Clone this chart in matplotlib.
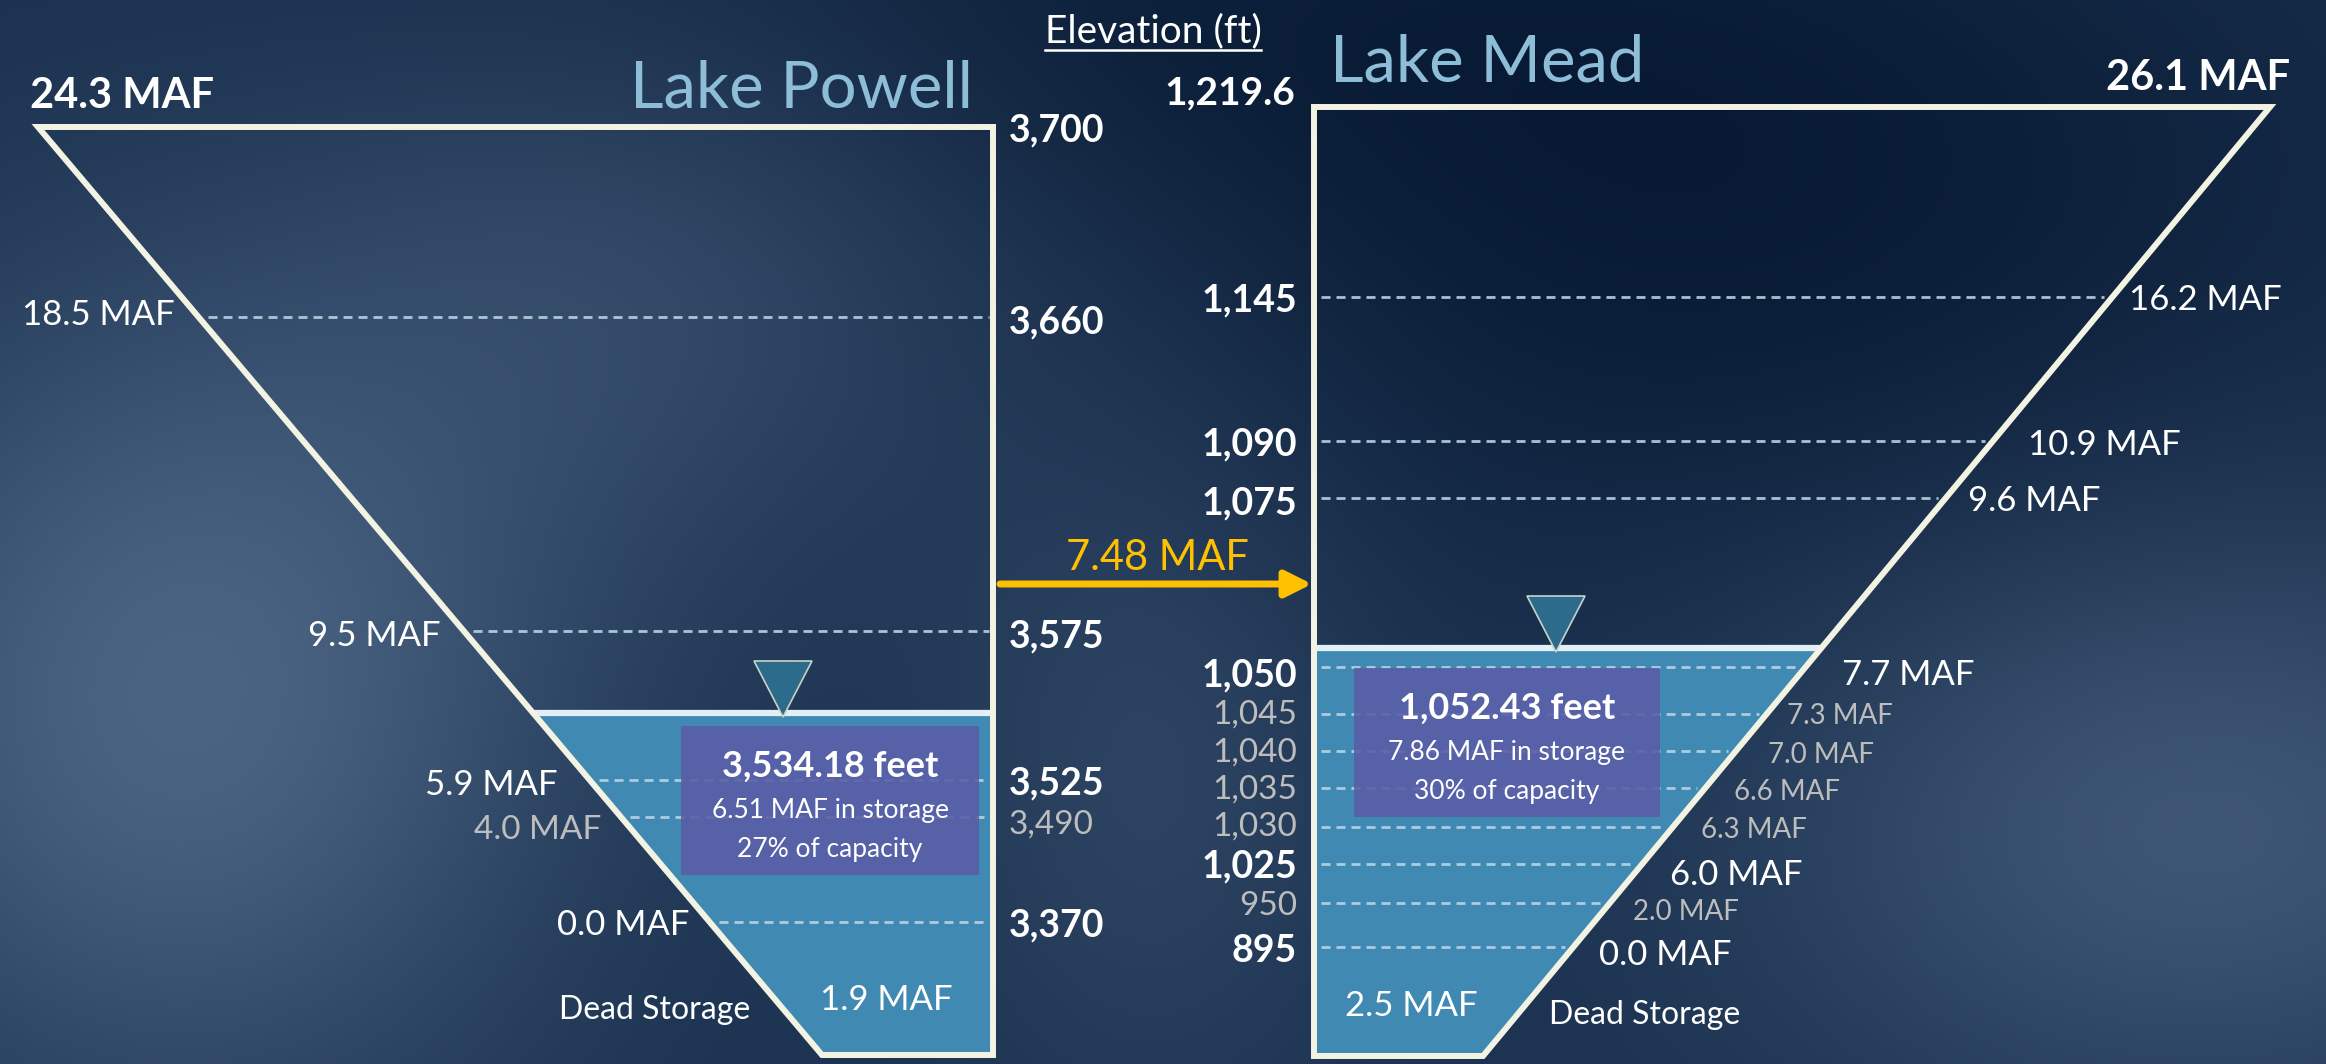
import numpy as np
import matplotlib.pyplot as plt
from matplotlib.patches import Polygon, Rectangle

plt.rcParams['font.family'] = ['Lato', 'DejaVu Sans']
plt.rcParams['lines.scale_dashes'] = False

W, H = 2326, 1064

# Lake Powell
powell_elev = [3660, 3575, 3525, 3490, 3370]
powell_maf = [18.5, 9.5, 5.9, 4.0, 0.0]
powell_major = [True, True, True, False, True]
powell_full_elev = 3700
powell_full_maf = 24.3
powell_now_elev = 3534.18
powell_now_maf = 6.51
powell_now_pct = 27
powell_dead_maf = 1.9

# Lake Mead
mead_elev = [1145, 1090, 1075, 1050, 1045, 1040, 1035, 1030, 1025, 950, 895]
mead_maf = [16.2, 10.9, 9.6, 7.7, 7.3, 7.0, 6.6, 6.3, 6.0, 2.0, 0.0]
mead_major = [True, True, True, True, False, False, False, False, True, False, True]
mead_full_elev = 1219.6
mead_full_maf = 26.1
mead_now_elev = 1052.43
mead_now_maf = 7.86
mead_now_pct = 30
mead_dead_maf = 2.5

transfer_maf = 7.48

# the drawing is schematic: pixel row (from top) where each elevation sits
powell_knots = ([3370, 3490, 3525, 3534.18, 3575, 3660, 3700],
                [922, 817, 780, 713, 631, 317, 127])
mead_knots = ([895, 950, 1025, 1030, 1035, 1040, 1045, 1050, 1052.43, 1075, 1090, 1145, 1219.6],
              [947, 903, 864, 827, 788, 751, 714, 667, 648, 498, 441, 297, 107])

# label nudges (pixels)
powell_maf_gap = [24, 23, 32, 20, 20]
powell_maf_dy = [-5, 2, 2, 10, 0]
powell_elev_dy = [2, 2, 0, 5, 0]
mead_maf_gap = [17, 35, 22, 36, 20, 32, 29, 28, 28, 23, 26]
mead_maf_dy = [0, 1, 0, 5, -1, 1, 1, 0, 8, 7, 5]
mead_elev_dy = [0, 0, 2, 5, -2, -1, -1, -3, -1, 0, 1]

WHITE = '#ffffff'
GREY = '#bdbdbd'
EDGE = '#f3f3e3'
WATER = '#4089b2'
BOX = '#5a5ca6'
DASH = '#b8d3e4'
TITLE = '#8dbdd7'
GOLD = '#ffc000'


def schematic_scale(elev, rows):
    e = np.asarray(elev, float)
    r = -np.asarray(rows, float)
    lo = (r[1] - r[0]) / (e[1] - e[0])
    hi = (r[-1] - r[-2]) / (e[-1] - e[-2])

    def fwd(v):
        v = np.asarray(v, float)
        out = np.interp(v, e, r)
        out = np.where(v < e[0], r[0] + (v - e[0]) * lo, out)
        return np.where(v > e[-1], r[-1] + (v - e[-1]) * hi, out)

    def inv(u):
        u = np.asarray(u, float)
        out = np.interp(u, r, e)
        out = np.where(u < r[0], e[0] + (u - r[0]) / lo, out)
        return np.where(u > r[-1], e[-1] + (u - r[-1]) / hi, out)

    return fwd, inv


def lake_axes(knots):
    fwd, inv = schematic_scale(*knots)
    ax = fig.add_axes([0, 0, 1, 1])
    ax.set_facecolor('none')
    ax.set_yscale('function', functions=(fwd, inv))
    ax.set_xlim(0, W)
    ax.set_ylim(float(inv(-H)), float(inv(0)))
    ax.axis('off')
    return ax, (lambda v: -float(fwd(v))), (lambda r: float(inv(-r)))


def dashed(ax, x0, x1, e):
    ax.plot([x0, x1], [e, e], color=DASH, lw=2.0, dashes=(6.5, 4.3), alpha=0.9, zorder=2)


def marker(ax, elev_at, cx, surf_row):
    # inverted triangle sitting on the water surface
    top = elev_at(surf_row - 52)
    ax.add_patch(Polygon([(cx - 29, top), (cx + 29, top), (cx, elev_at(surf_row + 4))],
                         closed=True, fc='#2d6b8c', ec='#c9d3c6', lw=1.2, zorder=6))


def info_box(ax, elev_at, x0, x1, top_row, elev, maf, pct):
    bottom_row = top_row + 149
    ax.add_patch(Rectangle((x0, elev_at(bottom_row)), x1 - x0,
                           elev_at(top_row) - elev_at(bottom_row),
                           fc=BOX, ec='none', alpha=0.88, zorder=3))
    cx = (x0 + x1) / 2
    kw = dict(ha='center', va='center_baseline', color=WHITE, zorder=7)
    ax.text(cx, elev_at(top_row + 37), f'{elev:,.2f} feet', fontsize=26, fontweight='bold', **kw)
    ax.text(cx, elev_at(top_row + 82), f'{maf:.2f} MAF in storage', fontsize=19, **kw)
    ax.text(cx, elev_at(top_row + 121), f'{pct}% of capacity', fontsize=19, **kw)


fig = plt.figure(figsize=(W / 100, H / 100), dpi=100)

# hazy navy background
bg = fig.add_axes([0, 0, 1, 1])
yy, xx = np.mgrid[0:H:4, 0:W:4]


def blob(cx, cy, sx, sy):
    return np.exp(-0.5 * (((xx - cx) / sx) ** 2 + ((yy - cy) / sy) ** 2))


base = np.array([0.10, 0.19, 0.31])
light = np.array([0.34, 0.44, 0.56])
dark = np.array([0.03, 0.10, 0.20])
glow = (0.8 * blob(180, 700, 280, 300) + 0.6 * blob(2200, 820, 320, 220)
        + 0.35 * blob(650, 280, 260, 200) + 0.3 * blob(1150, 760, 160, 260))
shade = 0.85 * blob(1750, 230, 450, 260) + 0.5 * blob(1150, 0, 500, 160)
img = base + glow[..., None] * (light - base) + shade[..., None] * (dark - base)
bg.imshow(np.clip(img, 0, 1), extent=(0, W, H, 0), aspect='auto', interpolation='bilinear')
bg.set_xlim(0, W)
bg.set_ylim(H, 0)
bg.axis('off')

# ---- Lake Powell ----
pa, prow, pelev = lake_axes(powell_knots)
p_top = prow(powell_full_elev)
p_bottom = 1055
p_left_top, p_left_bottom, p_right = 38, 822, 993


def p_slant(r):
    return p_left_top + (r - p_top) * (p_left_bottom - p_left_top) / (p_bottom - p_top)


p_floor = pelev(p_bottom)
p_surf = prow(powell_now_elev)

pa.add_patch(Polygon([(p_slant(p_surf), powell_now_elev), (p_right, powell_now_elev),
                      (p_right, p_floor), (p_left_bottom, p_floor)],
                     closed=True, fc=WATER, ec='none', zorder=1))
for e, m, big, gap, dy, edy in zip(powell_elev, powell_maf, powell_major,
                                   powell_maf_gap, powell_maf_dy, powell_elev_dy):
    r = prow(e)
    dashed(pa, p_slant(r) + 9, p_right - 4, e)
    pa.annotate(f'{m:.1f} MAF', (p_slant(r) - gap, e), xytext=(0, -dy), textcoords='offset pixels',
                ha='right', va='center_baseline', color=WHITE if big else GREY,
                fontsize=25 if big else 24)
    pa.annotate(f'{e:,}', (1009, e), xytext=(0, -edy), textcoords='offset pixels',
                ha='left', va='center_baseline', color=WHITE if big else GREY,
                fontsize=27 if big else 24, fontweight='bold' if big else 'normal')
pa.text(1009, powell_full_elev, f'{powell_full_elev:,}', ha='left', va='center_baseline',
        color=WHITE, fontsize=27, fontweight='bold')

pa.plot([p_slant(p_surf), p_right], [powell_now_elev] * 2, color='#e2eff6', lw=4.5,
        solid_capstyle='butt', zorder=4)
pa.add_patch(Polygon([(p_left_top, powell_full_elev), (p_right, powell_full_elev),
                      (p_right, p_floor), (p_left_bottom, p_floor)],
                     closed=True, fill=False, ec=EDGE, lw=4.3, joinstyle='miter', zorder=5))
marker(pa, pelev, 783, p_surf)
info_box(pa, pelev, 681, 979, p_surf + 13, powell_now_elev, powell_now_maf, powell_now_pct)

# ---- Lake Mead ----
ma, mrow, melev = lake_axes(mead_knots)
m_top = mrow(mead_full_elev)
m_bottom = 1056
m_left, m_right_top, m_right_bottom = 1314, 2270, 1483


def m_slant(r):
    return m_right_top - (r - m_top) * (m_right_top - m_right_bottom) / (m_bottom - m_top)


m_floor = melev(m_bottom)
m_surf = mrow(mead_now_elev)

ma.add_patch(Polygon([(m_left, mead_now_elev), (m_slant(m_surf), mead_now_elev),
                      (m_right_bottom, m_floor), (m_left, m_floor)],
                     closed=True, fc=WATER, ec='none', zorder=1))
for e, m, big, gap, dy, edy in zip(mead_elev, mead_maf, mead_major,
                                   mead_maf_gap, mead_maf_dy, mead_elev_dy):
    r = mrow(e)
    dashed(ma, m_left + 7, m_slant(r) - 8, e)
    ma.annotate(f'{m:.1f} MAF', (m_slant(r) + gap, e), xytext=(0, -dy), textcoords='offset pixels',
                ha='left', va='center_baseline', color=WHITE if big else GREY,
                fontsize=25 if big else 20)
    ma.annotate(f'{e:,}', (1297, e), xytext=(0, -edy), textcoords='offset pixels',
                ha='right', va='center_baseline', color=WHITE if big else GREY,
                fontsize=27 if big else 24, fontweight='bold' if big else 'normal')
ma.annotate(f'{mead_full_elev:,}', (1295, mead_full_elev), xytext=(0, 17),
            textcoords='offset pixels', ha='right', va='center_baseline',
            color=WHITE, fontsize=28, fontweight='bold')

ma.plot([m_left, m_slant(m_surf)], [mead_now_elev] * 2, color='#e2eff6', lw=4.5,
        solid_capstyle='butt', zorder=4)
ma.add_patch(Polygon([(m_left, mead_full_elev), (m_right_top, mead_full_elev),
                      (m_right_bottom, m_floor), (m_left, m_floor)],
                     closed=True, fill=False, ec=EDGE, lw=4.3, joinstyle='miter', zorder=5))
marker(ma, melev, 1556, m_surf)
info_box(ma, melev, 1354, 1660, m_surf + 20, mead_now_elev, mead_now_maf, mead_now_pct)

# ---- titles, transfer arrow, dead storage notes ----
ov = fig.add_axes([0, 0, 1, 1])
ov.set_xlim(0, W)
ov.set_ylim(H, 0)
ov.axis('off')

ov.text(973, 83, 'Lake Powell', ha='right', va='center_baseline', fontsize=47, color=TITLE)
ov.text(1330, 58, 'Lake Mead', ha='left', va='center_baseline', fontsize=47, color=TITLE)
ov.text(30, 92, f'{powell_full_maf} MAF', ha='left', va='center_baseline',
        fontsize=30, fontweight='bold', color=WHITE)
ov.text(2290, 75, f'{mead_full_maf} MAF', ha='right', va='center_baseline',
        fontsize=30, fontweight='bold', color=WHITE)

head = ov.text(1153, 28, 'Elevation (ft)', ha='center', va='center_baseline',
               fontsize=28, color=WHITE)
fig.canvas.draw()
bb = head.get_window_extent()
ov.plot([bb.x0, bb.x1], [50, 50], color=WHITE, lw=1.8)

ov.annotate('', xy=(1312, 584), xytext=(1000, 584),
            arrowprops=dict(arrowstyle='-|>', color=GOLD, lw=5, mutation_scale=40,
                            shrinkA=0, shrinkB=0))
ov.text(1157, 555, f'{transfer_maf} MAF', ha='center', va='center_baseline',
        fontsize=30, color=GOLD)

ov.text(655, 1007, 'Dead Storage', ha='center', va='center_baseline', fontsize=23, color=WHITE)
ov.text(886, 997, f'{powell_dead_maf} MAF', ha='center', va='center_baseline',
        fontsize=25, color=WHITE)
ov.text(1345, 1003, f'{mead_dead_maf} MAF', ha='left', va='center_baseline',
        fontsize=25, color=WHITE)
ov.text(1549, 1012, 'Dead Storage', ha='left', va='center_baseline', fontsize=23, color=WHITE)

fig.savefig('out.png', dpi=100)
